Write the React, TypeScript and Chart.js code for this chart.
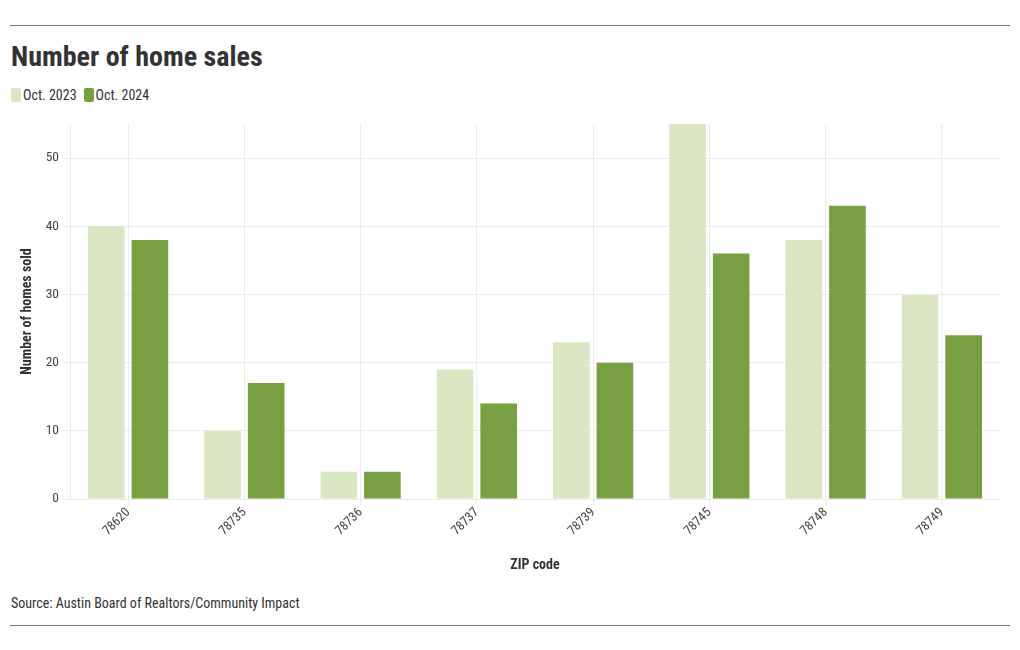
import React, { useEffect, useRef } from "react";
import { Chart, registerables } from "chart.js";

Chart.register(...registerables);

const zipCodes = ["78620", "78735", "78736", "78737", "78739", "78745", "78748", "78749"];
const sales2023 = [40, 10, 4, 19, 23, 55, 38, 30];
const sales2024 = [38, 17, 4, 14, 20, 36, 43, 24];
const seriesLabels = ["Oct. 2023", "Oct. 2024"];
const yTicks = [0, 10, 20, 30, 40, 50];

const LIGHT = "#dbe7c3";
const DARK = "#77a041";
const FONT = '"Liberation Sans Narrow", "Roboto Condensed", Roboto, sans-serif';

export default function App() {
  const ref = useRef<HTMLCanvasElement | null>(null);

  useEffect(() => {
    if (!ref.current) return;
    const chart = new Chart(ref.current, {
      type: "bar",
      data: {
        labels: zipCodes,
        datasets: [
          { label: seriesLabels[0], data: sales2023, backgroundColor: LIGHT },
          { label: seriesLabels[1], data: sales2024, backgroundColor: DARK },
        ],
      },
      options: {
        animation: false,
        responsive: false,
        maintainAspectRatio: false,
        layout: { padding: { left: 0, right: 20, top: 14, bottom: 0 } },
        datasets: { bar: { categoryPercentage: 0.75, barPercentage: 0.84 } },
        plugins: {
          legend: { display: false },
          title: { display: false },
          tooltip: { enabled: false },
        },
        scales: {
          x: {
            grid: { offset: false, color: "#ebebeb", tickLength: 6, drawTicks: true },
            border: { color: "#ebebeb" },
            ticks: {
              minRotation: 45,
              maxRotation: 45,
              color: "#444",
              font: { family: FONT, size: 13 },
              padding: 0,
            },
            title: {
              display: true,
              text: "ZIP code",
              color: "#333",
              font: { family: FONT, size: 14, weight: "bold" },
              padding: { top: 0, bottom: 6 },
            },
            afterFit: (scale: any) => {
              scale.height = 81;
            },
          },
          y: {
            min: 0,
            max: 55,
            grid: { color: "#ebebeb", tickLength: 8 },
            border: { color: "#ebebeb" },
            afterBuildTicks: (scale: any) => {
              scale.ticks = yTicks.map((v) => ({ value: v }));
            },
            ticks: {
              color: "#444",
              font: { family: FONT, size: 13.5 },
              padding: 3,
            },
            title: {
              display: true,
              text: "Number of homes sold",
              color: "#333",
              font: { family: FONT, size: 14, weight: "bold" },
              padding: { top: 19, bottom: 0 },
            },
            afterFit: (scale: any) => {
              scale.width = 70;
            },
          },
        },
      },
    });
    return () => chart.destroy();
  }, []);

  const rule: React.CSSProperties = {
    position: "absolute",
    left: 10,
    width: 1000,
    height: 1,
    background: "#777",
  };

  return (
    <div
      style={{
        position: "absolute",
        left: 0,
        top: 0,
        width: 1020,
        height: 650,
        background: "#fff",
        fontFamily: FONT,
        color: "#333",
      }}
    >
      <div style={{ ...rule, top: 25 }} />
      <div
        style={{
          position: "absolute",
          left: 11,
          top: 40,
          fontSize: 28,
          fontWeight: "bold",
          lineHeight: "34px",
          color: "#333",
        }}
      >
        Number of home sales
      </div>
      <div
        style={{
          position: "absolute",
          left: 11,
          top: 87,
          height: 16,
          display: "flex",
          alignItems: "center",
          fontSize: 14,
          color: "#333",
        }}
      >
        {seriesLabels.map((s, i) => (
          <span key={s} style={{ display: "flex", alignItems: "center", marginRight: 7 }}>
            <span
              style={{
                display: "inline-block",
                width: 10,
                height: 14,
                borderRadius: 2,
                background: i === 0 ? LIGHT : DARK,
                marginRight: 2,
              }}
            />
            {s}
          </span>
        ))}
      </div>
      <div style={{ position: "absolute", left: 0, top: 110, width: 1020, height: 470 }}>
        <canvas ref={ref} width={1020} height={470} style={{ display: "block" }} />
      </div>
      <div
        style={{
          position: "absolute",
          left: 11,
          top: 594,
          fontSize: 14,
          lineHeight: "18px",
          color: "#333",
        }}
      >
        Source: Austin Board of Realtors/Community Impact
      </div>
      <div style={{ ...rule, top: 625 }} />
    </div>
  );
}
